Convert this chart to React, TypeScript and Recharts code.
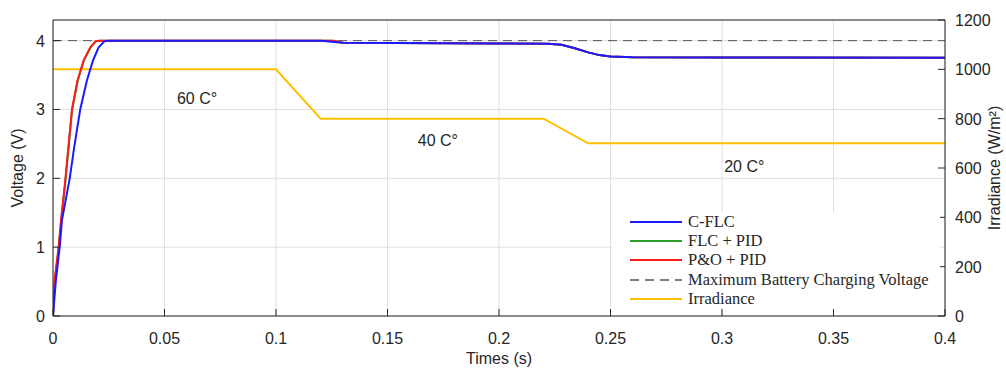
import React from 'react';
import { LineChart, Line, XAxis, YAxis, CartesianGrid, ReferenceDot } from 'recharts';

// time ticks (s)
const timeTicks = [0, 0.05, 0.1, 0.15, 0.2, 0.25, 0.3, 0.35, 0.4];
const voltTicks = [0, 1, 2, 3, 4];
const irrTicks = [0, 200, 400, 600, 800, 1000, 1200];

// C-FLC output voltage
const cflc = [
  { t: 0, v: 0 },
  { t: 0.0013, v: 0.52 },
  { t: 0.003, v: 1.0 },
  { t: 0.004, v: 1.39 },
  { t: 0.0075, v: 2.0 },
  { t: 0.0095, v: 2.45 },
  { t: 0.0122, v: 3.0 },
  { t: 0.0152, v: 3.42 },
  { t: 0.0179, v: 3.71 },
  { t: 0.0204, v: 3.9 },
  { t: 0.023, v: 3.99 },
  { t: 0.025, v: 4.0 },
  { t: 0.12, v: 4.0 },
  { t: 0.125, v: 3.985 },
  { t: 0.13, v: 3.97 },
  { t: 0.2, v: 3.96 },
  { t: 0.222, v: 3.955 },
  { t: 0.228, v: 3.94 },
  { t: 0.234, v: 3.89 },
  { t: 0.24, v: 3.83 },
  { t: 0.245, v: 3.79 },
  { t: 0.25, v: 3.77 },
  { t: 0.26, v: 3.76 },
  { t: 0.3, v: 3.755 },
  { t: 0.4, v: 3.75 },
];

// FLC + PID output voltage
const flcPid = [
  { t: 0, v: 0 },
  { t: 0.0008, v: 0.5 },
  { t: 0.0026, v: 1.0 },
  { t: 0.0037, v: 1.39 },
  { t: 0.0056, v: 1.97 },
  { t: 0.007, v: 2.45 },
  { t: 0.0086, v: 3.0 },
  { t: 0.0111, v: 3.42 },
  { t: 0.0138, v: 3.71 },
  { t: 0.0168, v: 3.9 },
  { t: 0.0191, v: 3.99 },
  { t: 0.021, v: 4.0 },
  { t: 0.125, v: 4.0 },
  { t: 0.13, v: 3.97 },
  { t: 0.2, v: 3.96 },
  { t: 0.222, v: 3.955 },
  { t: 0.228, v: 3.94 },
  { t: 0.234, v: 3.89 },
  { t: 0.24, v: 3.83 },
  { t: 0.245, v: 3.79 },
  { t: 0.25, v: 3.77 },
  { t: 0.26, v: 3.76 },
  { t: 0.3, v: 3.755 },
  { t: 0.4, v: 3.75 },
];

// P&O + PID output voltage
const poPid = [
  { t: 0, v: 0 },
  { t: 0.0007, v: 0.52 },
  { t: 0.0025, v: 1.0 },
  { t: 0.0036, v: 1.39 },
  { t: 0.0055, v: 1.97 },
  { t: 0.0069, v: 2.45 },
  { t: 0.0085, v: 3.0 },
  { t: 0.011, v: 3.42 },
  { t: 0.0137, v: 3.71 },
  { t: 0.0167, v: 3.9 },
  { t: 0.019, v: 3.99 },
  { t: 0.0205, v: 4.0 },
  { t: 0.126, v: 4.0 },
  { t: 0.13, v: 3.97 },
  { t: 0.2, v: 3.96 },
  { t: 0.222, v: 3.955 },
  { t: 0.228, v: 3.94 },
  { t: 0.234, v: 3.89 },
  { t: 0.24, v: 3.83 },
  { t: 0.245, v: 3.79 },
  { t: 0.25, v: 3.77 },
  { t: 0.26, v: 3.76 },
  { t: 0.3, v: 3.755 },
  { t: 0.4, v: 3.75 },
];

const maxVoltage = [
  { t: 0, v: 4.0 },
  { t: 0.4, v: 4.0 },
];

// irradiance profile (W/m2)
const irradiance = [
  { t: 0, g: 1000 },
  { t: 0.1, g: 1000 },
  { t: 0.12, g: 800 },
  { t: 0.22, g: 800 },
  { t: 0.24, g: 700 },
  { t: 0.4, g: 700 },
];

const tempNotes = [
  { t: 0.0646, v: 3.16, text: '60 C°' },
  { t: 0.1726, v: 2.55, text: '40 C°' },
  { t: 0.31, v: 2.17, text: '20 C°' },
];

const legendItems = [
  { name: 'C-FLC', color: '#1a1aff', dash: undefined },
  { name: 'FLC + PID', color: '#2ca02c', dash: undefined },
  { name: 'P&O + PID', color: '#ff1a1a', dash: undefined },
  { name: 'Maximum Battery Charging Voltage', color: '#555555', dash: '9 6' },
  { name: 'Irradiance', color: '#ffc000', dash: undefined },
];

const axisColor = '#262626';
const sans = 'Liberation Sans, Arial, sans-serif';
const TICK = 7;

// MATLAB-like inward ticks
const BottomTick = (p: any) => (
  <g>
    <line x1={p.x} y1={p.y} x2={p.x} y2={p.y - TICK} stroke={axisColor} />
    <text x={p.x} y={p.y + 28} textAnchor="middle" fontSize={16} fontFamily={sans} fill={axisColor}>
      {p.payload.value}
    </text>
  </g>
);
const TopTick = (p: any) => (
  <line x1={p.x} y1={p.y} x2={p.x} y2={p.y + TICK} stroke={axisColor} />
);
const LeftTick = (p: any) => (
  <g>
    <line x1={p.x} y1={p.y} x2={p.x + TICK} y2={p.y} stroke={axisColor} />
    <text x={p.x - 8} y={p.y + 6} textAnchor="end" fontSize={16} fontFamily={sans} fill={axisColor}>
      {p.payload.value}
    </text>
  </g>
);
const RightTick = (p: any) => (
  <g>
    <line x1={p.x} y1={p.y} x2={p.x - TICK} y2={p.y} stroke={axisColor} />
    <text x={p.x + 10} y={p.y + 6} textAnchor="start" fontSize={16} fontFamily={sans} fill={axisColor}>
      {p.payload.value}
    </text>
  </g>
);

const App = () => {
  return (
    <div style={{ position: 'absolute', left: 0, top: 0, width: 1006, height: 369, background: '#fff' }}>
      <LineChart width={1006} height={369} margin={{ top: 19, right: 0, bottom: 0, left: 0 }}>
        <CartesianGrid xAxisId="bottom" yAxisId="left" stroke="#e0e0e0" strokeWidth={1} />
        <XAxis
          xAxisId="bottom"
          type="number"
          dataKey="t"
          domain={[0, 0.4]}
          ticks={timeTicks}
          height={53}
          stroke={axisColor}
          tickLine={false}
          tickSize={0}
          tickMargin={0}
          tick={<BottomTick />}
          allowDataOverflow
          label={{ value: 'Times (s)', position: 'insideBottom', offset: 5, fill: axisColor, fontSize: 16, fontFamily: sans }}
        />
        <XAxis
          xAxisId="top"
          orientation="top"
          type="number"
          dataKey="t"
          domain={[0, 0.4]}
          ticks={timeTicks}
          height={1}
          stroke={axisColor}
          tickLine={false}
          tickSize={0}
          tickMargin={0}
          tick={<TopTick />}
        />
        <YAxis
          yAxisId="left"
          type="number"
          domain={[0, 4.3]}
          ticks={voltTicks}
          width={53}
          stroke={axisColor}
          tickLine={false}
          tickSize={0}
          tickMargin={0}
          tick={<LeftTick />}
          allowDataOverflow
          label={{ value: 'Voltage (V)', angle: -90, position: 'insideLeft', offset: 17, fill: axisColor, fontSize: 16, fontFamily: sans, style: { textAnchor: 'middle' } }}
        />
        <YAxis
          yAxisId="right"
          orientation="right"
          type="number"
          domain={[0, 1200]}
          ticks={irrTicks}
          width={61}
          stroke={axisColor}
          tickLine={false}
          tickSize={0}
          tickMargin={0}
          tick={<RightTick />}
          allowDataOverflow
          label={{ value: 'Irradiance (W/m²)', angle: -90, position: 'insideRight', offset: 12, fill: axisColor, fontSize: 16, fontFamily: sans, style: { textAnchor: 'middle' } }}
        />
        <Line xAxisId="bottom" yAxisId="left" data={maxVoltage} dataKey="v" stroke="#555555" strokeWidth={1} strokeDasharray="9 6" dot={false} isAnimationActive={false} />
        <Line xAxisId="bottom" yAxisId="right" data={irradiance} dataKey="g" stroke="#ffc000" strokeWidth={2} dot={false} isAnimationActive={false} />
        <Line xAxisId="bottom" yAxisId="left" data={flcPid} dataKey="v" stroke="#2ca02c" strokeWidth={2} dot={false} isAnimationActive={false} />
        <Line xAxisId="bottom" yAxisId="left" data={poPid} dataKey="v" stroke="#ff1a1a" strokeWidth={2} dot={false} isAnimationActive={false} />
        <Line xAxisId="bottom" yAxisId="left" data={cflc} dataKey="v" stroke="#1a1aff" strokeWidth={2} dot={false} isAnimationActive={false} />
        {tempNotes.map((n) => (
          <ReferenceDot
            key={n.text}
            xAxisId="bottom"
            yAxisId="left"
            x={n.t}
            y={n.v}
            r={0}
            fill="none"
            stroke="none"
            label={{ value: n.text, position: 'center', fill: axisColor, fontSize: 16, fontFamily: sans }}
          />
        ))}
      </LineChart>
      <div
        style={{
          position: 'absolute',
          left: 612,
          top: 212,
          width: 328,
          height: 96,
          background: '#fff',
          fontFamily: 'Liberation Serif, Times New Roman, serif',
          fontSize: 16.5,
          color: axisColor,
        }}
      >
        {legendItems.map((it) => (
          <div key={it.name} style={{ display: 'flex', alignItems: 'center', height: 19.3, paddingLeft: 18 }}>
            <svg width={52} height={6} style={{ marginRight: 6, flexShrink: 0 }}>
              <line x1={0} y1={3} x2={52} y2={3} stroke={it.color} strokeWidth={it.dash ? 1.5 : 2} strokeDasharray={it.dash} />
            </svg>
            <span style={{ whiteSpace: 'nowrap' }}>{it.name}</span>
          </div>
        ))}
      </div>
    </div>
  );
};

export default App;
